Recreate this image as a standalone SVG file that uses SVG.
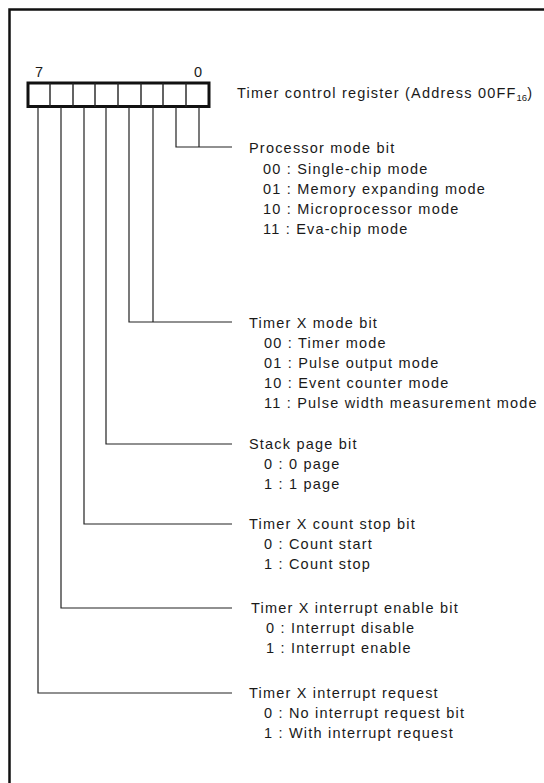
<svg xmlns="http://www.w3.org/2000/svg" width="544" height="783" viewBox="0 0 544 783">
<style>
text{font-family:"Liberation Sans",Arial,sans-serif;fill:#1a1a1a;font-size:14.5px;letter-spacing:1.2px}
.f{fill:none;stroke:#111;stroke-width:2.5}
.c{fill:none;stroke:#222;stroke-width:1.2}
.d{stroke:#222;stroke-width:1.4}
</style>
<rect width="544" height="783" fill="#fff"/>
<g id="frame"><path class="f" d="M9.5 783V9.5H544"/></g>
<g id="register">
<rect x="28" y="83" width="181" height="23.5" fill="none" stroke="#111" stroke-width="3"/>
<path class="d" d="M50 83v24M73 83v24M95 83v24M118 83v24M141 83v24M163 83v24M186 83v24"/>
<text x="35" y="77">7</text>
<text x="194" y="77">0</text>
<text x="237" y="98">Timer control register (Address 00FF<tspan font-size="9.5" letter-spacing="0" dy="3">16</tspan><tspan dy="-3">)</tspan></text>
</g>
<g id="connectors">
<path class="c" d="M199 107V147M176 107V147H232"/>
<path class="c" d="M153 107V322M129 107V322H232"/>
<path class="c" d="M106 107V444H232"/>
<path class="c" d="M84 107V524H232"/>
<path class="c" d="M61 107V608H232"/>
<path class="c" d="M38 107V693H232"/>
</g>
<g id="processor-mode">
<text x="249" y="153">Processor mode bit</text>
<text x="263" y="174">00 : Single-chip mode</text>
<text x="263" y="194">01 : Memory expanding mode</text>
<text x="263" y="214">10 : Microprocessor mode</text>
<text x="263" y="234">11 : Eva-chip mode</text>
</g>
<g id="timer-x-mode">
<text x="249" y="328">Timer X mode bit</text>
<text x="264" y="348">00 : Timer mode</text>
<text x="264" y="368">01 : Pulse output mode</text>
<text x="264" y="388">10 : Event counter mode</text>
<text x="264" y="408">11 : Pulse width measurement mode</text>
</g>
<g id="stack-page">
<text x="249" y="449">Stack page bit</text>
<text x="264" y="469">0 : 0 page</text>
<text x="264" y="489">1 : 1 page</text>
</g>
<g id="count-stop">
<text x="249" y="529">Timer X count stop bit</text>
<text x="264" y="549">0 : Count start</text>
<text x="264" y="569">1 : Count stop</text>
</g>
<g id="int-enable">
<text x="251" y="613">Timer X interrupt enable bit</text>
<text x="266" y="633">0 : Interrupt disable</text>
<text x="266" y="653">1 : Interrupt enable</text>
</g>
<g id="int-request">
<text x="249" y="698">Timer X interrupt request</text>
<text x="264" y="718">0 : No interrupt request bit</text>
<text x="264" y="738">1 : With interrupt request</text>
</g>
</svg>
